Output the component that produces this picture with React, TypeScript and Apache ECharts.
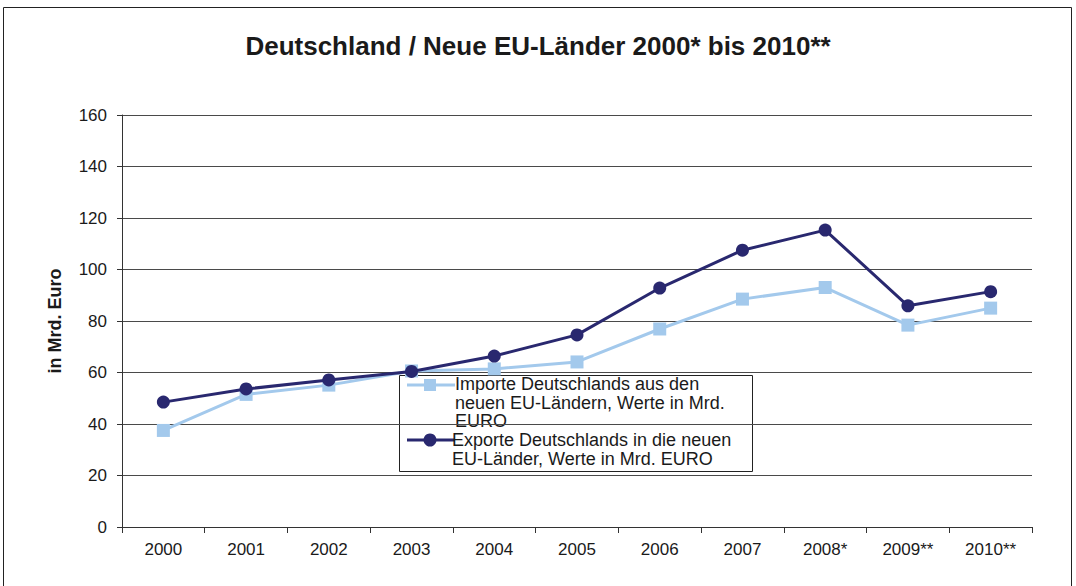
import React, { useEffect, useRef } from "react";
import * as echarts from "echarts";

const categories = ["2000", "2001", "2002", "2003", "2004", "2005", "2006", "2007", "2008*", "2009**", "2010**"];
const importe = [37.5, 51.5, 55.1, 60.6, 61.4, 64.1, 76.9, 88.5, 93.0, 78.4, 85.0];
const exporte = [48.5, 53.6, 57.1, 60.4, 66.4, 74.6, 92.8, 107.5, 115.3, 85.9, 91.4];
const importName = "Importe Deutschlands aus den\nneuen EU-Ländern, Werte in Mrd.\nEURO";
const exportName = "Exporte Deutschlands in die neuen\nEU-Länder, Werte in Mrd. EURO";
const titleText = "Deutschland / Neue EU-Länder 2000* bis 2010**";
const yAxisName = "in Mrd. Euro";

const IMPORT_COLOR = "#a3c9ec";
const EXPORT_COLOR = "#29286f";
const FONT = "Liberation Sans, Arial, sans-serif";

export default function App() {
  const ref = useRef<HTMLDivElement>(null);
  useEffect(() => {
    document.body.style.margin = "0";
    const chart = echarts.init(ref.current!, null, { renderer: "svg" });
    const lx = 399, ly = 375;
    chart.setOption({
      animation: false,
      backgroundColor: "#ffffff",
      title: {
        text: titleText,
        left: "center",
        top: 28,
        textStyle: { fontFamily: FONT, fontSize: 26, fontWeight: "bold", color: "#1a1a1a" },
      },
      grid: { left: 122, right: 44, top: 115, bottom: 59 },
      xAxis: {
        type: "category",
        data: categories,
        boundaryGap: true,
        axisLine: { lineStyle: { color: "#333", width: 1 } },
        axisTick: { show: true, alignWithLabel: false, length: 6, lineStyle: { color: "#333" } },
        axisLabel: { fontFamily: FONT, fontSize: 17, color: "#1a1a1a", margin: 14 },
      },
      yAxis: {
        type: "value",
        min: 0,
        max: 160,
        interval: 20,
        name: yAxisName,
        nameLocation: "middle",
        nameGap: 58,
        nameTextStyle: { fontFamily: FONT, fontSize: 18, fontWeight: "bold", color: "#1a1a1a" },
        axisLine: { show: true, lineStyle: { color: "#333" } },
        axisTick: { show: true, inside: false, length: 5, lineStyle: { color: "#333" } },
        axisLabel: { fontFamily: FONT, fontSize: 17, color: "#1a1a1a", margin: 15 },
        splitLine: { show: true, lineStyle: { color: "#4a4a4a", width: 1 } },
      },
      series: [
        {
          name: "Importe",
          type: "line",
          data: importe,
          symbol: "rect",
          symbolSize: 13,
          itemStyle: { color: IMPORT_COLOR },
          lineStyle: { color: IMPORT_COLOR, width: 3 },
          z: 2,
        },
        {
          name: "Exporte",
          type: "line",
          data: exporte,
          symbol: "circle",
          symbolSize: 13,
          itemStyle: { color: EXPORT_COLOR },
          lineStyle: { color: EXPORT_COLOR, width: 3 },
          z: 3,
        },
      ],
      graphic: [
        {
          type: "rect",
          shape: { x: 3.5, y: 7.5, width: 1068, height: 600 },
          style: { fill: "none", stroke: "#222", lineWidth: 1 },
          silent: true,
          z: 0,
        },
        {
          type: "group",
          z: 100,
          children: [
            {
              type: "rect",
              shape: { x: lx + 0.5, y: ly + 0.5, width: 353, height: 96 },
              style: { fill: "#ffffff", stroke: "#222", lineWidth: 1 },
            },
            { type: "line", shape: { x1: lx + 8, y1: ly + 10, x2: lx + 56, y2: ly + 10 }, style: { stroke: IMPORT_COLOR, lineWidth: 3 } },
            { type: "rect", shape: { x: lx + 25, y: ly + 4, width: 12, height: 12 }, style: { fill: IMPORT_COLOR } },
            {
              type: "text",
              x: lx + 56,
              y: ly + 0,
              style: { text: importName, font: "18px " + FONT, fill: "#1a1a1a", lineHeight: 18.5 },
            },
            { type: "line", shape: { x1: lx + 8, y1: ly + 65, x2: lx + 56, y2: ly + 65 }, style: { stroke: EXPORT_COLOR, lineWidth: 3 } },
            { type: "circle", shape: { cx: lx + 31, cy: ly + 65, r: 6.5 }, style: { fill: EXPORT_COLOR } },
            {
              type: "text",
              x: lx + 53,
              y: ly + 56,
              style: { text: exportName, font: "18px " + FONT, fill: "#1a1a1a", lineHeight: 18.5 },
            },
          ],
        },
      ],
    });
    return () => chart.dispose();
  }, []);
  return <div ref={ref} style={{ width: 1076, height: 586 }} />;
}
